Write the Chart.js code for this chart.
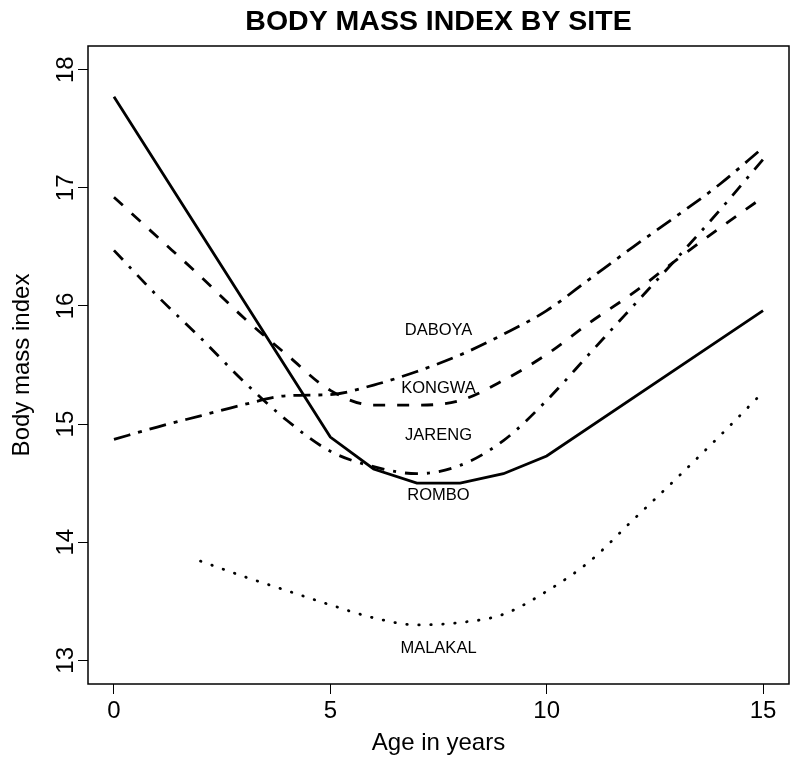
<!DOCTYPE html>
<html>
<head>
<meta charset="utf-8">
<title>Body mass index by site</title>
<script src="https://cdn.jsdelivr.net/npm/chart.js@4.4.1/dist/chart.umd.min.js"></script>
<style>
  body { margin: 0; background: #fff; }
  #grafico { display: block; }
</style>
</head>
<body>
<canvas id="grafico" width="800" height="767"></canvas>
<script>
// dados (idade em anos x IMC)
var idades = [0, 1, 2, 3, 4, 5, 6, 7, 8, 9, 10, 11, 12, 13, 14, 15];
var daboya = [14.87, 14.975, 15.07, 15.165, 15.24, 15.25, 15.33, 15.445, 15.585, 15.76, 15.96, 16.23, 16.50, 16.76, 17.03, 17.34];
var kongwa = [16.92, 16.585, 16.25, 15.90, 15.585, 15.285, 15.16, 15.16, 15.20, 15.37, 15.59, 15.86, 16.11, 16.39, 16.66, 16.92];
var jareng = [16.47, 16.085, 15.73, 15.36, 15.03, 14.77, 14.64, 14.58, 14.65, 14.86, 15.20, 15.60, 16.00, 16.40, 16.81, 17.24];

var idadesRombo = [0, 5, 6, 7, 8, 9, 10, 15];
var rombo = [17.77, 14.89, 14.62, 14.50, 14.50, 14.58, 14.73, 15.96];

var idadesMalakal = [2, 3, 4, 5, 6, 7, 8, 9, 10, 11, 12, 13, 14, 15];
var malakal = [13.84, 13.71, 13.59, 13.47, 13.36, 13.30, 13.32, 13.39, 13.585, 13.84, 14.19, 14.54, 14.90, 15.27];

var ticksX = [0, 5, 10, 15];
var ticksY = [13, 14, 15, 16, 17, 18];

// rotulos dos sitios dentro do grafico
var nomesSitios = ['DABOYA', 'KONGWA', 'JARENG', 'ROMBO', 'MALAKAL'];
var rotuloIdade = [7.5, 7.5, 7.5, 7.5, 7.5];
var rotuloImc = [15.79, 15.30, 14.90, 14.40, 13.10];

var fonte = "'Liberation Sans', Arial, Helvetica, sans-serif";

function _pares(xs, ys) {
    return xs.map(function (x, i) { return { x: x, y: ys[i] }; });
}

function _serie(nome, xs, ys, tracejado, suave, ponta) {
    return {
        label: nome,
        data: _pares(xs, ys),
        borderColor: '#000',
        borderWidth: 2.8,
        borderDash: tracejado,
        borderCapStyle: ponta || 'butt',
        pointRadius: 0,
        fill: false,
        tension: suave ? 0.4 : 0,
        cubicInterpolationMode: suave ? 'monotone' : 'default'
    };
}

// moldura em volta da area do grafico
var moldura = {
    id: 'moldura',
    afterDraw: function (chart) {
        var a = chart.chartArea, ctx = chart.ctx;
        ctx.save();
        ctx.strokeStyle = '#000';
        ctx.lineWidth = 1.5;
        ctx.strokeRect(a.left, a.top, a.right - a.left, a.bottom - a.top);
        ctx.restore();
    }
};

var rotulos = {
    id: 'rotulos',
    afterDatasetsDraw: function (chart) {
        var ctx = chart.ctx, sx = chart.scales.x, sy = chart.scales.y;
        ctx.save();
        ctx.fillStyle = '#000';
        ctx.font = '16.5px ' + fonte;
        ctx.textAlign = 'center';
        ctx.textBaseline = 'middle';
        nomesSitios.forEach(function (nome, i) {
            ctx.fillText(nome, sx.getPixelForValue(rotuloIdade[i]), sy.getPixelForValue(rotuloImc[i]));
        });
        ctx.restore();
    }
};

new Chart(document.getElementById('grafico'), {
    type: 'line',
    data: {
        datasets: [
            _serie('ROMBO', idadesRombo, rombo, [], false),
            _serie('KONGWA', idades, kongwa, [12, 12], true),
            _serie('DABOYA', idades, daboya, [17, 8, 4, 8], true),
            _serie('JARENG', idades, jareng, [13, 9, 3, 9], true),
            _serie('MALAKAL', idadesMalakal, malakal, [0.5, 11.5], true, 'round')
        ]
    },
    plugins: [moldura, rotulos],
    options: {
        responsive: false,
        animation: false,
        devicePixelRatio: 1,
        layout: { padding: { top: 0, left: 0, right: 11, bottom: 0 } },
        plugins: {
            legend: { display: false },
            tooltip: { enabled: false },
            title: {
                display: true,
                fullSize: false,
                text: 'BODY MASS INDEX BY SITE',
                color: '#000',
                font: { family: fonte, size: 28.5, weight: 'bold' },
                padding: { top: 5, bottom: 6.8 }
            }
        },
        scales: {
            x: {
                type: 'linear',
                min: -0.6,
                max: 15.6,
                afterBuildTicks: function (s) { s.ticks = ticksX.map(function (v) { return { value: v }; }); },
                afterFit: function (s) { s.height = 83; },
                grid: { drawOnChartArea: false, drawTicks: true, tickLength: 10, color: '#000', lineWidth: 1 },
                border: { display: false },
                ticks: { color: '#000', padding: 3, font: { family: fonte, size: 24 } },
                title: {
                    display: true,
                    text: 'Age in years',
                    color: '#000',
                    font: { family: fonte, size: 24 },
                    padding: { top: 0, bottom: 9 }
                }
            },
            y: {
                type: 'linear',
                min: 12.8,
                max: 18.2,
                afterBuildTicks: function (s) { s.ticks = ticksY.map(function (v) { return { value: v }; }); },
                afterFit: function (s) { s.width = 88; },
                grid: { drawOnChartArea: false, drawTicks: true, tickLength: 10, color: '#000', lineWidth: 1 },
                border: { display: false },
                ticks: {
                    color: '#000',
                    padding: -2,
                    minRotation: 90,
                    maxRotation: 90,
                    crossAlign: 'center',
                    font: { family: fonte, size: 24 }
                },
                title: {
                    display: true,
                    text: 'Body mass index',
                    color: '#000',
                    font: { family: fonte, size: 24 },
                    padding: { top: 8, bottom: 0 }
                }
            }
        }
    }
});
</script>
</body>
</html>
